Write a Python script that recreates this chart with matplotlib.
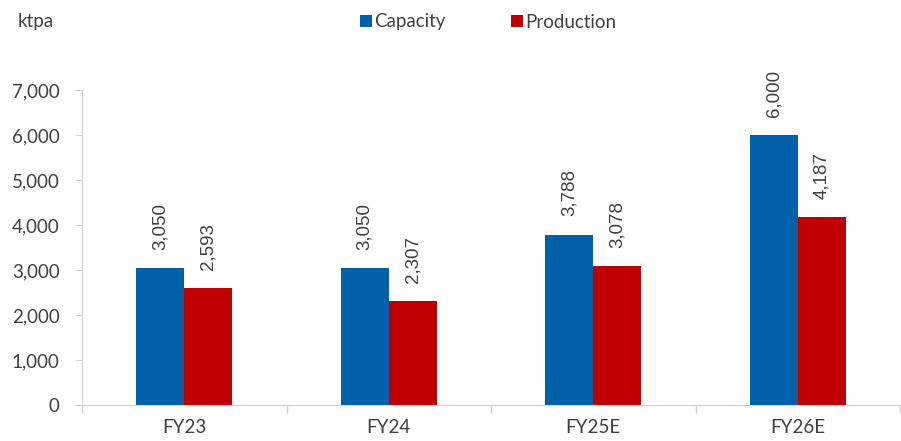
import numpy as np
import matplotlib.pyplot as plt

categories = ["FY23", "FY24", "FY25E", "FY26E"]
capacity = [3050, 3050, 3788, 6000]
production = [2593, 2307, 3078, 4187]

plt.rcParams['font.family'] = ['Lato', 'DejaVu Sans']
text_col = "#404040"
grid_col = "#D0D0D0"

fig = plt.figure(figsize=(9.01, 4.41), dpi=100)
ax = fig.add_axes([82/901, 36/441, 818/901, 315/441])

x = np.arange(len(categories))
w = 0.235
b1 = ax.bar(x - w/2, capacity, w, color="#0061AB", label="Capacity")
b2 = ax.bar(x + w/2, production, w, color="#C00000", label="Production")

for bars, vals in [(b1, capacity), (b2, production)]:
    for r, v in zip(bars, vals):
        ax.annotate(f"{v:,}", (r.get_x() + r.get_width()/2, v),
                    xytext=(0, 13), textcoords="offset points",
                    rotation=90, ha="center", va="bottom",
                    fontsize=13.5, color=text_col, family="Liberation Sans")

ax.set_xlim(-0.5, len(categories) - 0.5)
ax.set_ylim(0, 7000)
ax.set_yticks(range(0, 7001, 1000))
ax.set_yticklabels([f"{v:,}" for v in range(0, 7001, 1000)])
ax.set_xticks(x)
ax.set_xticklabels(categories)
ax.set_xticks(np.arange(-0.5, len(categories)), minor=True)

ax.tick_params(axis="x", which="major", length=0, pad=10, labelsize=13.5, labelcolor=text_col)
ax.tick_params(axis="x", which="minor", length=6, color=grid_col, width=1)
ax.tick_params(axis="y", length=5, color=grid_col, pad=11, labelsize=13.5, labelcolor=text_col)

for s in ["top", "right"]:
    ax.spines[s].set_visible(False)
for s in ["left", "bottom"]:
    ax.spines[s].set_color(grid_col)

fig.text(18/901, 1 - 22/441, "ktpa", fontsize=13.5, color=text_col, va="center", ha="left")

ax.legend(loc="center", bbox_to_anchor=(488/901, 1 - 22/441), bbox_transform=fig.transFigure,
          ncol=2, frameon=False, fontsize=13.5, handlelength=0.65, handleheight=0.65,
          handletextpad=0.1, columnspacing=3.5, labelcolor=text_col)

fig.savefig("out.png", dpi=100)
